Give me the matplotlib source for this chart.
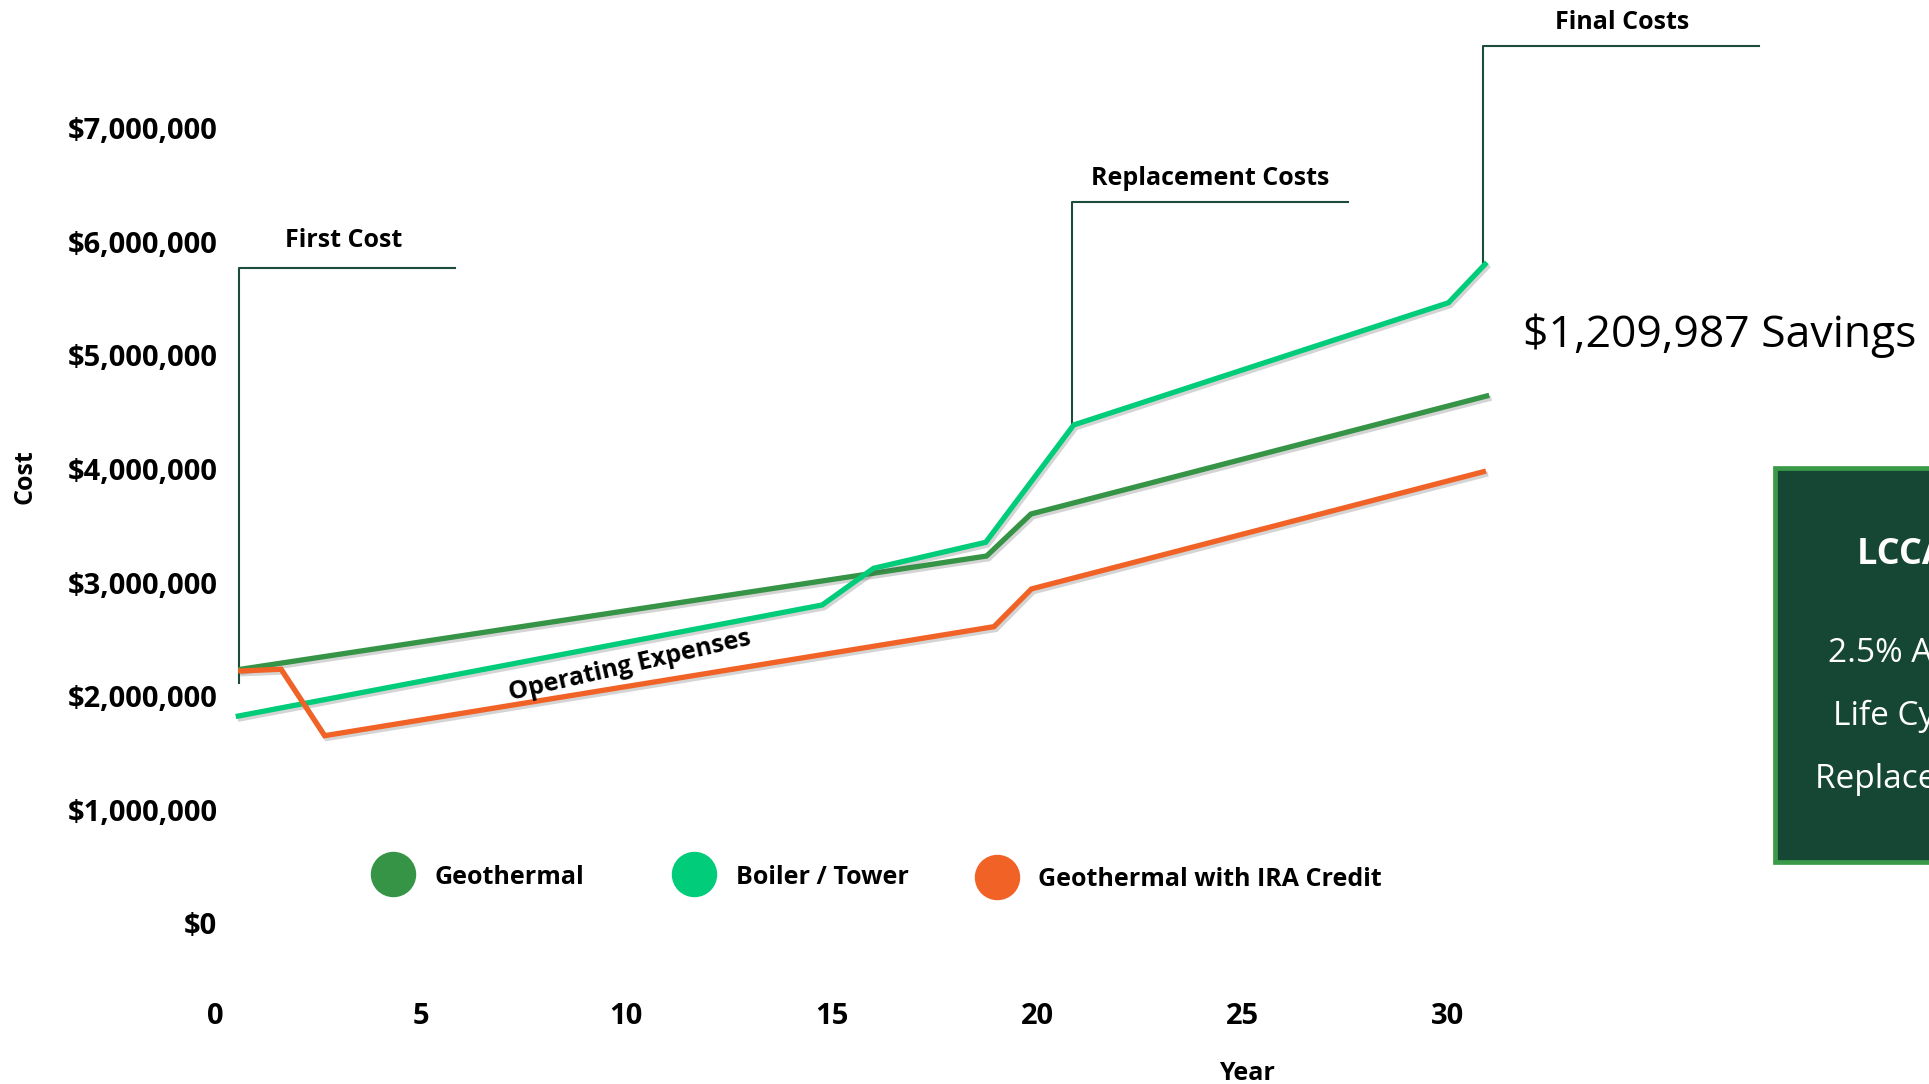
import matplotlib
matplotlib.use('Agg')
import matplotlib.pyplot as plt
import matplotlib.patheffects as pe
from matplotlib.lines import Line2D
from matplotlib.patches import Rectangle
from matplotlib.ticker import FuncFormatter

# === DATA (cost in dollars by year) ===
geo_years = [0.62, 18.77, 19.85, 30.94]
geo_cost = [2237000, 3234000, 3604000, 4643000]

boiler_years = [0.56, 14.77, 16.02, 18.75, 20.89, 30.01, 30.90]
boiler_cost = [1825000, 2803000, 3126000, 3355000, 4388000, 5464000, 5803000]

ira_years = [0.62, 1.60, 2.66, 18.95, 19.86, 30.86]
ira_cost = [2222000, 2237000, 1652000, 2612000, 2944000, 3976000]

series_names = ['Geothermal', 'Boiler / Tower', 'Geothermal with IRA Credit']
series_colors = ['#359446', '#00CC7A', '#F16226']

x_ticks = [0, 5, 10, 15, 20, 25, 30]
y_ticks = [0, 1000000, 2000000, 3000000, 4000000, 5000000, 6000000, 7000000]

# callout brackets: (x of riser, bottom of riser, top, right end of shelf)
bracket_labels = ['First Cost', 'Replacement Costs', 'Final Costs']
bracket_x = [0.58, 20.86, 30.86]
bracket_bottom = [2119000, 4403000, 5797000]
bracket_top = [5767000, 6349000, 7728000]
bracket_right = [5.83, 27.56, 37.57]
bracket_text_x = [3.12, 24.21, 34.24]
bracket_text_y = [6008000, 6557000, 7930000]

savings_text = '\\$1,209,987 Savings'
box_lines = ['LCCA Assumptions', '2.5% Annual Escalation', 'Life Cycle: 30 Years', 'Replacement at Year 20']

# === LAYOUT (pixels of the 1929x1084 canvas) ===
W, H = 1929, 1084
X0_PX, PX_PER_YEAR = 211.2, 41.22
Y0_PX, PX_PER_M = 923.3, 113.57
XLIM = (0.1, 32.0)
YLIM = (-550000, 7600000)
FONT = 'Open Sans'
BRACKET_COLOR = '#1D4D3A'

plt.rcParams['font.family'] = [FONT, 'DejaVu Sans']


def fx(px):
    return px / W


def fy(py):
    return 1 - py / H


fig = plt.figure(figsize=(W / 100, H / 100), dpi=100)
ax_left = X0_PX + XLIM[0] * PX_PER_YEAR
ax_w = (XLIM[1] - XLIM[0]) * PX_PER_YEAR
ax_bottom = Y0_PX - YLIM[0] / 1e6 * PX_PER_M
ax_h = (YLIM[1] - YLIM[0]) / 1e6 * PX_PER_M
ax = fig.add_axes([fx(ax_left), fy(ax_bottom), ax_w / W, ax_h / H])
ax.set_xlim(XLIM)
ax.set_ylim(YLIM)
for s in ax.spines.values():
    s.set_visible(False)

shadow = [pe.SimpleLineShadow(offset=(1.5, -2), shadow_color='#555555', alpha=0.25), pe.Normal()]
all_x = [geo_years, boiler_years, ira_years]
all_y = [geo_cost, boiler_cost, ira_cost]
for xs, ys, c in zip(all_x, all_y, series_colors):
    ax.plot(xs, ys, color=c, lw=3.8, solid_joinstyle='miter', zorder=3, path_effects=shadow)

# callout brackets
for i in range(len(bracket_labels)):
    ax.plot([bracket_x[i], bracket_x[i], bracket_right[i]],
            [bracket_bottom[i], bracket_top[i], bracket_top[i]],
            color=BRACKET_COLOR, lw=1.5, zorder=2, clip_on=False)
    ax.text(bracket_text_x[i], bracket_text_y[i], bracket_labels[i], fontsize=18,
            fontweight='bold', ha='center', va='center', clip_on=False)

ax.text(10.1, 2265000, 'Operating Expenses', fontsize=18, fontweight='bold',
        ha='center', va='center', rotation=13, rotation_mode='anchor', zorder=4)

ax.set_xticks(x_ticks)
ax.set_yticks(y_ticks)
ax.yaxis.set_major_formatter(FuncFormatter(lambda v, p: '\\$' + format(int(v), ',')))
ax.tick_params(length=0, labelsize=21)
ax.tick_params(axis='y', pad=-1.5)
ax.tick_params(axis='x', pad=12)
for lab in ax.get_xticklabels() + ax.get_yticklabels():
    lab.set_fontweight('bold')

fig.text(fx(25), fy(477), 'Cost', rotation=90, fontsize=18, fontweight='bold', ha='center', va='center')
fig.text(fx(1246.7), fy(1074), 'Year', fontsize=18, fontweight='bold', ha='center', va='center')

# legend row
legend_marker_x = [393.3, 694.3, 997.3]
legend_text_x = [435, 736, 1038.3]
legend_y = [874, 874, 876.7]
for i in range(3):
    fig.add_artist(Line2D([fx(legend_marker_x[i])], [fy(legend_y[i])], transform=fig.transFigure,
                          marker='o', ms=31.7, color=series_colors[i], ls=''))
    fig.text(fx(legend_text_x[i]), fy(legend_y[i] + 3), series_names[i], fontsize=18,
             fontweight='bold', ha='left', va='center')

fig.text(fx(1522.7), fy(346.7), savings_text, fontsize=32, ha='left', va='baseline')

# assumptions panel (runs off the right edge, as in the source slide)
fig.add_artist(Rectangle((fx(1775), fy(861.7)), (W - 1775 + 40) / W, (861.7 - 468) / H,
                         transform=fig.transFigure, facecolor='#154734', edgecolor='#3A9A48',
                         lw=3.4))
box_text_x = [1856.7, 1828.3, 1833.3, 1815]
box_text_y = [555, 653.3, 716.7, 780]
for i in range(len(box_lines)):
    fig.text(fx(box_text_x[i]), fy(box_text_y[i]), box_lines[i], color='white',
             fontsize=26 if i == 0 else 24, fontweight='bold' if i == 0 else 'normal',
             ha='left', va='center')

fig.savefig('out.png', dpi=100)
